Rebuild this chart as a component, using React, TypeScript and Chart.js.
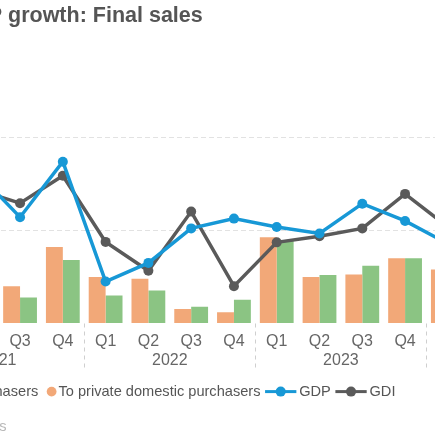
import React, { useEffect, useRef } from "react";
import { Chart, registerables } from "chart.js";

Chart.register(...registerables);

// ---------- data ----------
const quarterLabels = ["Q1", "Q2", "Q3", "Q4", "Q1", "Q2", "Q3", "Q4", "Q1", "Q2", "Q3", "Q4", "Q1", "Q2"];
const yearOfQuarter = ["2021", "2021", "2021", "2021", "2022", "2022", "2022", "2022", "2023", "2023", "2023", "2023", "2024", "2024"];
const privateDomesticPurchasers = [2.6, 2.3, 0.8, 1.64, 1.0, 0.96, 0.31, 0.24, 1.85, 1.0, 1.05, 1.4, 1.16, 1.3];
const domesticPurchasers = [2.4, 1.9, 0.56, 1.36, 0.6, 0.71, 0.36, 0.51, 1.79, 1.04, 1.24, 1.4, 0.95, 1.2];
const gdpGrowth = [2.9, 3.23, 2.28, 3.47, 0.9, 1.3, 2.04, 2.25, 2.07, 1.93, 2.57, 2.2, 1.71, 2.4];
const gdiGrowth = [3.3, 2.87, 2.58, 3.17, 1.75, 1.13, 2.4, 0.8, 1.74, 1.87, 2.04, 2.78, 2.07, 1.6];
const yMin = 0;
const yMax = 4;
const yStep = 2;

const titleText = "GDP growth: Final sales";
const sourceText = "Source: Bureau of Economic Analysis";

// ---------- style / layout ----------
const ORANGE = "#f2a878";
const GREEN = "#8bc483";
const BLUE = "#1798d6";
const GRAY = "#5a5a5a";
const FONT = '"Liberation Sans", Arial, Helvetica, sans-serif';

const CANVAS_LEFT = -150; // page x of canvas left edge (chart is cropped)
const CANVAS_W = 700;
const CANVAS_H = 435;
const PLOT_LEFT = -86.9;
const CAT_W = 42.78;
const PLOT_TOP = 137;
const PLOT_BOTTOM = 323.5;

const legendOrder = [1, 0, 2, 3];

const decorPlugin = {
  id: "decor",
  afterDraw(chart: any) {
    const { ctx, chartArea, scales } = chart;
    const xs = scales.x;
    const off = -CANVAS_LEFT;
    ctx.save();

    // title
    ctx.font = `bold 21.5px ${FONT}`;
    ctx.fillStyle = "#555555";
    ctx.textAlign = "left";
    ctx.textBaseline = "alphabetic";
    const lead = ctx.measureText("GDP ").width;
    ctx.fillText(titleText, 8 - lead + off, 21.7);

    // year group labels + separators
    ctx.font = `16px ${FONT}`;
    ctx.fillStyle = "#666666";
    ctx.textAlign = "center";
    ctx.textBaseline = "middle";
    let start = 0;
    for (let i = 1; i <= yearOfQuarter.length; i++) {
      if (i === yearOfQuarter.length || yearOfQuarter[i] !== yearOfQuarter[start]) {
        const cx = (xs.getPixelForValue(start) + xs.getPixelForValue(i - 1)) / 2;
        ctx.fillText(yearOfQuarter[start], cx, 360.5);
        if (i < yearOfQuarter.length) {
          const sx = Math.round((xs.getPixelForValue(i - 1) + xs.getPixelForValue(i)) / 2) + 0.5;
          ctx.save();
          ctx.strokeStyle = "#cfcfcf";
          ctx.lineWidth = 1;
          ctx.setLineDash([4, 4]);
          ctx.beginPath();
          ctx.moveTo(sx, chartArea.bottom);
          ctx.lineTo(sx, 371);
          ctx.stroke();
          ctx.restore();
        }
        start = i;
      }
    }

    // legend
    ctx.font = `14.6px ${FONT}`;
    ctx.textAlign = "left";
    ctx.textBaseline = "middle";
    const ly = 391.6;
    const ds = chart.data.datasets;
    const items = legendOrder.map((k: number) => {
      const d = ds[k];
      const kind = d.type === "line" ? "line" : "dot";
      return {
        label: d.label,
        color: kind === "line" ? d.borderColor : d.backgroundColor,
        kind,
        lead: kind === "line" ? 4.6 : 8.4,
        w: kind === "line" ? 31.3 : 9.8,
        gap: kind === "line" ? 2.8 : 2.0,
        tw: ctx.measureText(d.label).width,
      };
    });
    const pos: number[] = [];
    let x = 0;
    items.forEach((it: any, i: number) => {
      if (i > 0) x += it.lead;
      pos.push(x);
      x += it.w + it.gap + it.tw;
    });
    const shift = 46.7 + off - pos[1];
    items.forEach((it: any, i: number) => {
      const sx = pos[i] + shift;
      ctx.fillStyle = it.color;
      ctx.strokeStyle = it.color;
      if (it.kind === "dot") {
        ctx.beginPath();
        ctx.arc(sx + it.w / 2, ly, it.w / 2, 0, Math.PI * 2);
        ctx.fill();
      } else {
        ctx.lineWidth = 3;
        ctx.beginPath();
        ctx.moveTo(sx, ly);
        ctx.lineTo(sx + it.w, ly);
        ctx.stroke();
        ctx.beginPath();
        ctx.arc(sx + it.w / 2, ly, 5, 0, Math.PI * 2);
        ctx.fill();
      }
      ctx.fillStyle = "#555555";
      ctx.fillText(it.label, sx + it.w + it.gap, ly);
    });

    // source
    ctx.font = `14.6px ${FONT}`;
    ctx.fillStyle = "#b8b8b8";
    ctx.textAlign = "right";
    ctx.textBaseline = "alphabetic";
    ctx.fillText(sourceText, 6.5 + off, 430.5);

    ctx.restore();
  },
};

export default function App() {
  const ref = useRef<HTMLCanvasElement | null>(null);

  useEffect(() => {
    document.body.style.margin = "0";
    const canvas = ref.current;
    if (!canvas) return;
    const plotRight = PLOT_LEFT + CAT_W * quarterLabels.length;
    const chart = new Chart(canvas, {
      type: "bar",
      data: {
        labels: quarterLabels,
        datasets: [
          {
            label: "To private domestic purchasers",
            data: privateDomesticPurchasers,
            backgroundColor: ORANGE,
            borderWidth: 0,
            categoryPercentage: 0.79,
            barPercentage: 1.0,
            order: 2,
          },
          {
            label: "To domestic purchasers",
            data: domesticPurchasers,
            backgroundColor: GREEN,
            borderWidth: 0,
            categoryPercentage: 0.79,
            barPercentage: 1.0,
            order: 2,
          },
          {
            type: "line",
            label: "GDP",
            data: gdpGrowth,
            borderColor: BLUE,
            backgroundColor: BLUE,
            borderWidth: 3.5,
            pointRadius: 5,
            pointBorderWidth: 0,
            pointBackgroundColor: BLUE,
            tension: 0,
            clip: false,
            order: 0,
          },
          {
            type: "line",
            label: "GDI",
            data: gdiGrowth,
            borderColor: GRAY,
            backgroundColor: GRAY,
            borderWidth: 3.5,
            pointRadius: 5,
            pointBorderWidth: 0,
            pointBackgroundColor: GRAY,
            tension: 0,
            clip: false,
            order: 1,
          },
        ] as any,
      },
      options: {
        responsive: false,
        animation: false,
        layout: {
          padding: {
            left: PLOT_LEFT - CANVAS_LEFT,
            right: CANVAS_W - (plotRight - CANVAS_LEFT),
            top: PLOT_TOP,
            bottom: 0,
          },
        },
        plugins: {
          legend: { display: false },
          title: { display: false },
          tooltip: { enabled: false },
        },
        scales: {
          x: {
            grid: { display: false, drawTicks: false },
            border: { display: false },
            ticks: {
              font: { family: FONT, size: 16 },
              color: "#666666",
              padding: 8,
              maxRotation: 0,
              autoSkip: false,
            },
            afterFit: (s: any) => {
              s.height = CANVAS_H - PLOT_BOTTOM;
            },
          },
          y: {
            min: yMin,
            max: yMax,
            ticks: { display: false, stepSize: yStep },
            grid: {
              drawTicks: false,
              color: (c: any) => (c.tick && c.tick.value === 0 ? "rgba(0,0,0,0)" : "#e2e2e2"),
              lineWidth: 1,
            },
            border: { display: false, dash: [5, 3] },
            afterFit: (s: any) => {
              s.width = 0;
            },
          },
        },
      },
      plugins: [decorPlugin],
    });
    return () => chart.destroy();
  }, []);

  return (
    <div
      style={{
        position: "fixed",
        left: 0,
        top: 0,
        width: 435,
        height: 435,
        overflow: "hidden",
        background: "#ffffff",
      }}
    >
      <canvas
        ref={ref}
        width={CANVAS_W}
        height={CANVAS_H}
        style={{ position: "absolute", left: CANVAS_LEFT, top: 0, width: CANVAS_W, height: CANVAS_H }}
      />
    </div>
  );
}
